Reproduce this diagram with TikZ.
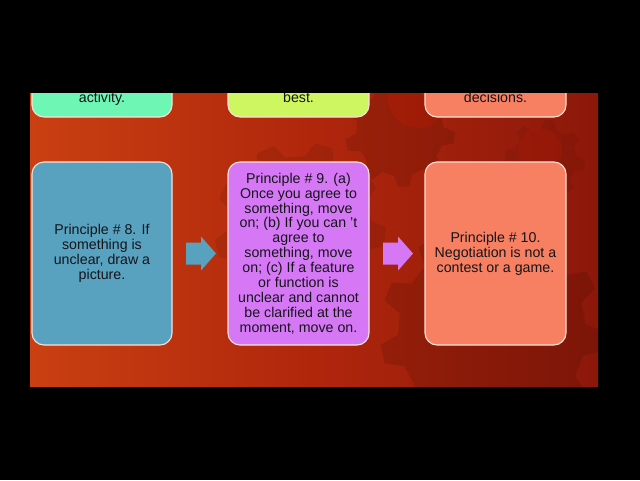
\documentclass[tikz,border=0pt]{standalone}
\usepackage{fontspec}
\setmainfont{Liberation Sans}
\usetikzlibrary{calc}
\definecolor{bgL}{RGB}{202,64,18}
\definecolor{bgM}{RGB}{175,38,12}
\definecolor{bgR}{RGB}{140,24,10}
\definecolor{cgreen}{RGB}{110,246,180}
\definecolor{cyellow}{RGB}{205,246,96}
\definecolor{csalmon}{RGB}{248,128,98}
\definecolor{cblue}{RGB}{88,162,192}
\definecolor{cpurple}{RGB}{214,120,246}
\definecolor{boxline}{RGB}{250,225,215}
\definecolor{txt}{RGB}{20,20,25}
\newcommand\mygear[6]{%
  \begin{scope}[shift={(#1,#2)}]
  \pgfmathsetmacro\gstep{360/#5}
  \fill[#6] (0:#3) \foreach \k in {1,...,#5}{ -- ({(\k-1)*\gstep+0.3*\gstep}:#3) -- ({(\k-1)*\gstep+0.45*\gstep}:#4) -- ({\k*\gstep-0.15*\gstep}:#4) -- ({\k*\gstep}:#3)} -- cycle;
  \end{scope}}
\begin{document}
\begin{tikzpicture}[x=1pt,y=-1pt,
  box/.style={draw=boxline, line width=1.1pt, rounded corners=12pt, minimum width=140pt, minimum height=183pt, align=center, font=\fontsize{14.2}{14.9}\selectfont, text=txt, inner sep=0pt},
  topbox/.style={box, minimum height=100pt},
  toptext/.style={anchor=base, font=\fontsize{14.2}{14.9}\selectfont, text=txt, inner sep=0pt}]
\useasboundingbox (0,0) rectangle (640,480);
\fill[black] (0,0) rectangle (640,480);
\begin{scope}
\clip (30,93) rectangle (598,386);
\shade[left color=bgL, right color=bgR, middle color=bgM] (30,93) rectangle (598,386);
\mygear{300}{228}{86}{72}{9}{black, opacity=0.08}
\mygear{400}{132}{55}{44}{9}{black, opacity=0.10}
\mygear{492}{332}{112}{94}{11}{black, opacity=0.11}
\mygear{545}{160}{40}{32}{8}{black, opacity=0.06}
\fill[red!80!orange, opacity=0.12] (418,98) circle (30);
\fill[red!80!orange, opacity=0.10] (540,150) circle (22);
\node[topbox, fill=cgreen] (t1) at (102,67) {};
\node[topbox, fill=cyellow, minimum width=141pt] (t2) at (298.5,67) {};
\node[topbox, fill=csalmon, minimum width=141pt] (t3) at (495.5,67) {};
\node[toptext] (t1txt) at ($(t1.south)+(0,-15)$) {activity.};
\node[toptext] (t2txt) at ($(t2.south)+(0,-15)$) {best.};
\node[toptext] (t3txt) at ($(t3.south)+(0,-15)$) {decisions.};
\node[box, fill=cblue] (p8) at (102,253.5) {Principle \# 8. If\\something is\\unclear, draw a\\picture.};
\node[box, fill=cpurple, minimum width=141pt] (p9) at (298.5,253.5) {Principle \# 9. (a)\\Once you agree to\\something, move\\on; (b) If you can 't\\agree to\\something, move\\on; (c) If a feature\\or function is\\unclear and cannot\\be clarified at the\\moment, move on.};
\node[box, fill=csalmon, minimum width=141pt] (p10) at (495.5,253.5) {Principle \# 10.\\Negotiation is not a\\contest or a game.};
\coordinate (m1) at ($(p8.east)!0.5!(p9.west)+(1,0)$);
\coordinate (m2) at ($(p9.east)!0.5!(p10.west)+(1,0)$);
\fill[cblue] ($(m1)+(-15,-11)$) -- ++(15,0) -- ++(0,-6) -- ++(15,17) -- ++(-15,17) -- ++(0,-6) -- ++(-15,0) -- cycle;
\fill[cpurple] ($(m2)+(-15,-11)$) -- ++(15,0) -- ++(0,-6) -- ++(15,17) -- ++(-15,17) -- ++(0,-6) -- ++(-15,0) -- cycle;
\end{scope}
\end{tikzpicture}
\end{document}
